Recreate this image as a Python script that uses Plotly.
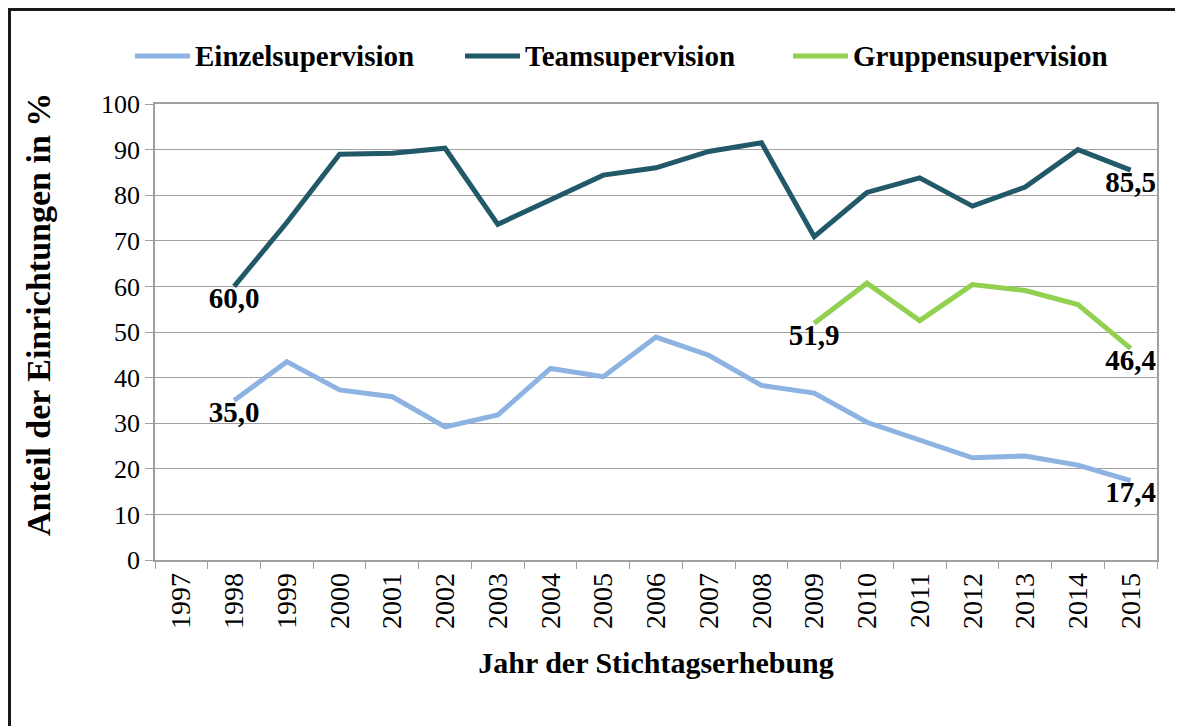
import plotly.graph_objects as go

years = [str(y) for y in range(1997, 2016)]
einzel = [None, 35.0, 43.5, 37.3, 35.8, 29.2, 31.8, 42.0, 40.2, 48.9, 44.9, 38.3, 36.6, 30.2, 26.2, 22.4, 22.8, 20.8, 17.4]
team = [None, 60.0, 74.0, 89.0, 89.2, 90.3, 73.6, 79.0, 84.4, 86.0, 89.6, 91.5, 70.9, 80.6, 83.8, 77.6, 81.8, 90.0, 85.5]
gruppe = [None] * 12 + [51.9, 60.7, 52.5, 60.4, 59.1, 56.0, 46.4]

names = ["Einzelsupervision", "Teamsupervision", "Gruppensupervision"]
colors = ["#8DB3E2", "#215968", "#92D050"]
series = [einzel, team, gruppe]

FONT = "Liberation Serif"


def end_labels(vals):
    idx = [i for i, v in enumerate(vals) if v is not None]
    first, last = idx[0], idx[-1]
    out = []
    for i, v in enumerate(vals):
        if i in (first, last):
            out.append(f"{v:.1f}".replace(".", ","))
        else:
            out.append("")
    return out


fig = go.Figure()
for name, col, vals in zip(names, colors, series):
    fig.add_trace(go.Scatter(
        x=years, y=vals, name=name, mode="lines+text",
        line=dict(color=col, width=5),
        text=end_labels(vals), textposition="bottom center",
        textfont=dict(family=FONT, size=29, color="black", weight="bold"),
        cliponaxis=False, connectgaps=False, showlegend=False,
    ))

# page body has an 8px margin; compensate so the picture lands where the reference is
OFF = 8
W, H = 1183, 726
L, R, T, B = 155 - OFF, 1157 - OFF, 104 - OFF, 560 - OFF
PW, PH = R - L, B - T


def px(x):
    return (x - OFF - L) / PW


def py(y):
    return (B - (y - OFF)) / PH


# manual legend (line sample + label), positioned in screen pixels
legend_starts = [135, 465, 793]
LEG_Y = 56
shapes = []
annotations = []
for name, col, x0 in zip(names, colors, legend_starts):
    shapes.append(dict(type="line", xref="paper", yref="paper",
                       x0=px(x0), x1=px(x0 + 55), y0=py(LEG_Y), y1=py(LEG_Y),
                       line=dict(color=col, width=5)))
    annotations.append(dict(xref="paper", yref="paper", x=px(x0 + 58), y=py(LEG_Y),
                            xanchor="left", yanchor="middle", showarrow=False,
                            text=f"<b>{name}</b>",
                            font=dict(family=FONT, size=29, color="black")))

# y-axis title as rotated annotation
annotations.append(dict(xref="paper", yref="paper", x=px(38), y=py(315),
                        xanchor="center", yanchor="middle", showarrow=False,
                        textangle=-90, text="<b>Anteil der Einrichtungen in %</b>",
                        font=dict(family=FONT, size=34, color="black")))

# outer frame
shapes.append(dict(
    type="rect", xref="paper", yref="paper",
    x0=px(9.5), x1=1.2, y0=-1.0, y1=py(9.5),
    line=dict(color="#1a1a1a", width=3), fillcolor="rgba(0,0,0,0)", layer="above",
))

fig.update_layout(
    width=W, height=H,
    margin=dict(l=L, r=W - R, t=T, b=H - B, autoexpand=False),
    paper_bgcolor="white", plot_bgcolor="white",
    font=dict(family=FONT, color="black"),
    showlegend=False,
    xaxis=dict(
        type="category", range=[-0.5, 18.5], tickson="boundaries",
        ticks="outside", ticklen=7, tickcolor="#A0A0A0",
        tickangle=-90, tickfont=dict(family=FONT, size=28, color="black"),
        showgrid=False, showline=True, linecolor="#A0A0A0", linewidth=1.5, mirror=True,
        automargin=False,
        title=dict(text="<b>Jahr der Stichtagserhebung</b>", font=dict(family=FONT, size=30, color="black"), standoff=24),
    ),
    yaxis=dict(
        range=[0, 100], dtick=10, ticks="outside", ticklen=8, tickcolor="#A0A0A0",
        tickfont=dict(family=FONT, size=26, color="black"),
        showgrid=True, gridcolor="#A0A0A0", gridwidth=1.2,
        showline=True, linecolor="#A0A0A0", linewidth=1.5, mirror=True,
        zeroline=False, automargin=False,
    ),
    shapes=shapes,
    annotations=annotations,
)

fig.write_html("out.html")
